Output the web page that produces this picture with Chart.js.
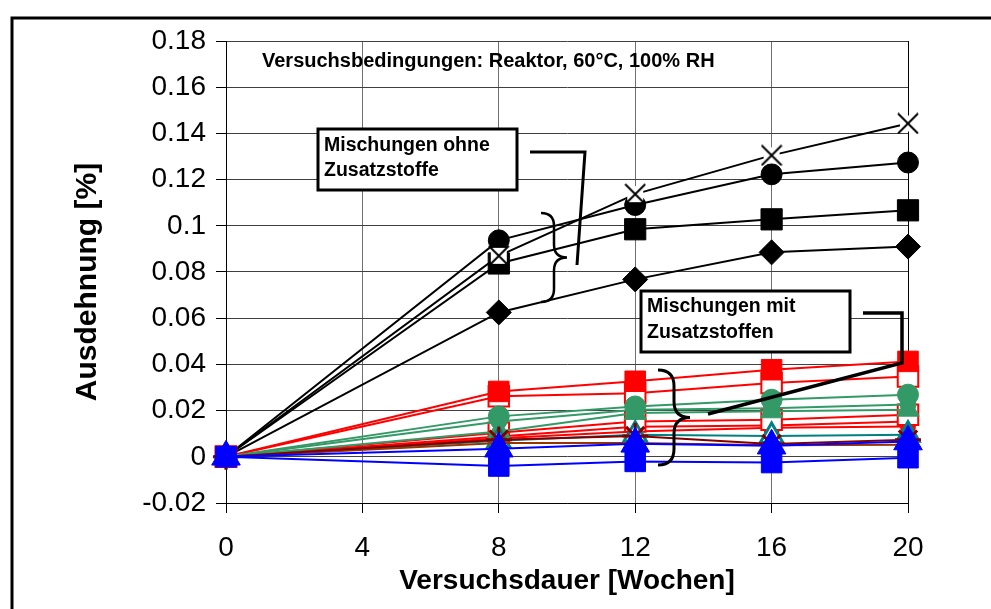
<!DOCTYPE html>
<html>
<head>
<meta charset="utf-8">
<script src="https://cdn.jsdelivr.net/npm/chart.js@4"></script>
<style>
html,body{margin:0;padding:0;background:#fff;}
#wrap{width:991px;height:609px;}
</style>
</head>
<body>
<div id="wrap"><canvas id="ausdehnungChart" width="991" height="609"></canvas></div>
<script>
// Versuchsdauer [Wochen]
const wochen = [0, 8, 12, 16, 20];

// Mischungen ohne Zusatzstoffe
const ohneKreuz   = [0, 0.0870, 0.1137, 0.1305, 0.1443];
const ohneKreis   = [0, 0.0937, 0.1090, 0.1223, 0.1274];
const ohneQuadrat = [0, 0.0837, 0.0985, 0.1028, 0.1067];
const ohneRaute   = [0, 0.0625, 0.0768, 0.0885, 0.0910];

// Mischungen mit Zusatzstoffen
const rotQuadrat   = [0, 0.0283, 0.0327, 0.0377, 0.0413];
const rotHohl      = [0, 0.0262, 0.0275, 0.0320, 0.0348];
const rotHohl2     = [0, 0.0104, 0.0153, 0.0160, 0.0182];
const rot4         = [0, 0.0088, 0.0130, 0.0135, 0.0153];
const rot5         = [0, 0.0080, 0.0110, 0.0126, 0.0131];
const gruenKreis   = [0, 0.0175, 0.0218, 0.0247, 0.0269];
const gruen2       = [0, 0.0153, 0.0204, 0.0210, 0.0226];
const gruenDreieck = [0, 0.0110, 0.0190, 0.0197, 0.0204];
const tuerkis      = [0, 0.0070, 0.0095, 0.0090, 0.0095];
const dunkelrot    = [0, 0.0074, 0.0090, 0.0055, 0.0074];
const dunkelrot2   = [0, 0.0060, 0.0060, 0.0050, 0.0052];
const blauDreieck  = [0, 0.0035, 0.0056, 0.0048, 0.0066];
const blauQuadrat  = [0, -0.0040, -0.0020, -0.0025, -0.0004];

// Achsenteilung
const xWerte = [0, 4, 8, 12, 16, 20];
const yWerte = [-0.02, 0, 0.02, 0.04, 0.06, 0.08, 0.1, 0.12, 0.14, 0.16, 0.18];

const schrift = '"Liberation Sans", Arial, sans-serif';

// Kreuz mit weissem Hintergrund
function kreuzMarker(size) {
  const c = document.createElement('canvas');
  c.width = size; c.height = size;
  const g = c.getContext('2d');
  g.fillStyle = '#fff';
  g.fillRect(3, 3, size - 6, size - 6);
  g.strokeStyle = '#000';
  g.lineWidth = 2;
  g.beginPath();
  g.moveTo(1, 1); g.lineTo(size - 1, size - 1);
  g.moveTo(size - 1, 1); g.lineTo(1, size - 1);
  g.stroke();
  return c;
}

function reihe(werte, farbe, stil, radius, fuellung, rand) {
  return {
    data: wochen.map((w, i) => ({x: w, y: werte[i]})),
    borderColor: farbe,
    borderWidth: 2,
    pointStyle: stil,
    pointRadius: radius,
    pointBackgroundColor: fuellung || farbe,
    pointBorderColor: farbe,
    pointBorderWidth: rand || 1,
    fill: false,
    tension: 0,
    clip: false
  };
}

function klammer(ctx, x, top, bottom, w) {
  const mid = (top + bottom) / 2;
  const r = w / 2;
  ctx.beginPath();
  ctx.moveTo(x, top);
  ctx.quadraticCurveTo(x + r, top, x + r, top + r);
  ctx.lineTo(x + r, mid - r);
  ctx.quadraticCurveTo(x + r, mid, x + w, mid);
  ctx.quadraticCurveTo(x + r, mid, x + r, mid + r);
  ctx.lineTo(x + r, bottom - r);
  ctx.quadraticCurveTo(x + r, bottom, x, bottom);
  ctx.stroke();
}

function kasten(ctx, x, y, w, h, zeilen, ys) {
  ctx.fillStyle = '#fff';
  ctx.fillRect(x, y, w, h);
  ctx.lineWidth = 3;
  ctx.strokeStyle = '#000';
  ctx.strokeRect(x, y, w, h);
  ctx.fillStyle = '#000';
  ctx.font = 'bold 19.5px ' + schrift;
  ctx.textBaseline = 'middle';
  ctx.textAlign = 'left';
  zeilen.forEach((z, i) => ctx.fillText(z, x + 6, ys[i]));
}

const beschriftung = {
  id: 'beschriftung',
  afterDatasetsDraw(chart) {
    const ctx = chart.ctx;
    ctx.save();
    ctx.lineCap = 'butt';
    ctx.lineJoin = 'miter';

    ctx.fillStyle = '#000';
    ctx.font = 'bold 20px ' + schrift;
    ctx.textBaseline = 'middle';
    ctx.fillText('Versuchsbedingungen: Reaktor, 60°C, 100% RH', 262, 61);

    // ohne Zusatzstoffe
    kasten(ctx, 318, 129, 199, 61, ['Mischungen ohne', 'Zusatzstoffe'], [146, 171]);
    ctx.lineWidth = 3;
    ctx.beginPath();
    ctx.moveTo(530, 152); ctx.lineTo(585, 152); ctx.lineTo(577, 265);
    ctx.stroke();
    ctx.lineWidth = 2.5;
    klammer(ctx, 541, 213, 302, 26);

    // mit Zusatzstoffen
    kasten(ctx, 641, 291, 209, 61, ['Mischungen mit', 'Zusatzstoffen'], [307, 333]);
    ctx.lineWidth = 3.5;
    ctx.beginPath();
    ctx.moveTo(863, 313); ctx.lineTo(902, 313); ctx.lineTo(902, 363); ctx.lineTo(708, 414);
    ctx.stroke();
    ctx.lineWidth = 3;
    klammer(ctx, 658, 370, 465, 32);

    // Achsentitel
    ctx.font = 'bold 28px ' + schrift;
    ctx.textAlign = 'center';
    ctx.fillText('Versuchsdauer [Wochen]', 567, 581);
    ctx.font = 'bold 30px ' + schrift;
    ctx.translate(88, 282);
    ctx.rotate(-Math.PI / 2);
    ctx.fillText('Ausdehnung [%]', 0, 0);
    ctx.restore();

    // Rahmen
    ctx.save();
    ctx.strokeStyle = '#000';
    ctx.lineWidth = 3;
    ctx.beginPath();
    ctx.moveTo(12, 609); ctx.lineTo(12, 18); ctx.lineTo(991, 18);
    ctx.stroke();
    ctx.restore();
  }
};

const datensaetze = [
  reihe(blauQuadrat, '#0000ff', 'rect', 14.5),
  reihe(blauDreieck, '#0000ff', 'triangle', 16.5),
  reihe(dunkelrot, '#800000', 'star', 13, '#993300', 3),
  reihe(dunkelrot2, '#993300', 'rect', 8),
  reihe(tuerkis, '#008080', 'triangle', 13, '#ffffff', 3),
  reihe(gruenKreis, '#339966', 'circle', 10.5),
  reihe(gruenDreieck, '#339966', 'triangle', 13),
  reihe(gruen2, '#339966', 'circle', 8),
  reihe(rotQuadrat, '#ff0000', 'rect', 14.5),
  reihe(rotHohl, '#ff0000', 'rect', 14.5, '#ffffff', 2),
  reihe(rotHohl2, '#ff0000', 'rect', 14.5, '#ffffff', 2),
  reihe(rot4, '#ff0000', 'rect', 10),
  reihe(rot5, '#ff0000', 'rect', 10),
  reihe(ohneKreuz, '#000000', kreuzMarker(22), 11),
  reihe(ohneKreis, '#000000', 'circle', 10.5),
  reihe(ohneQuadrat, '#000000', 'rect', 15),
  reihe(ohneRaute, '#000000', 'rectRot', 12.5)
];

new Chart(document.getElementById('ausdehnungChart'), {
  type: 'line',
  data: { datasets: datensaetze },
  options: {
    responsive: false,
    animation: false,
    layout: { padding: { left: 0, right: 83, top: 41, bottom: 0 }, autoPadding: false },
    plugins: { legend: { display: false }, tooltip: { enabled: false } },
    scales: {
      x: {
        type: 'linear',
        min: 0,
        max: 20,
        afterBuildTicks: s => { s.ticks = xWerte.map(v => ({ value: v })); },
        afterFit: s => { s.height = 106; },
        grid: {
          color: c => (c.tick && c.tick.value === 20) ? '#000' : '#707070',
          lineWidth: 1,
          tickLength: 10,
          tickColor: '#000'
        },
        border: { color: '#000', width: 1 },
        ticks: { color: '#000', font: { size: 28, family: schrift }, padding: 18, maxRotation: 0, autoSkip: false }
      },
      y: {
        min: -0.02,
        max: 0.18,
        afterBuildTicks: s => { s.ticks = yWerte.map(v => ({ value: v })); },
        afterFit: s => { s.width = 226; },
        grid: { color: '#404040', lineWidth: 1, tickLength: 10, tickColor: '#000' },
        border: { color: '#000', width: 1 },
        ticks: {
          color: '#000',
          font: { size: 28, family: schrift },
          padding: 10,
          autoSkip: false,
          callback: v => String(parseFloat(Number(v).toFixed(2)))
        }
      }
    }
  },
  plugins: [beschriftung]
});
</script>
</body>
</html>
